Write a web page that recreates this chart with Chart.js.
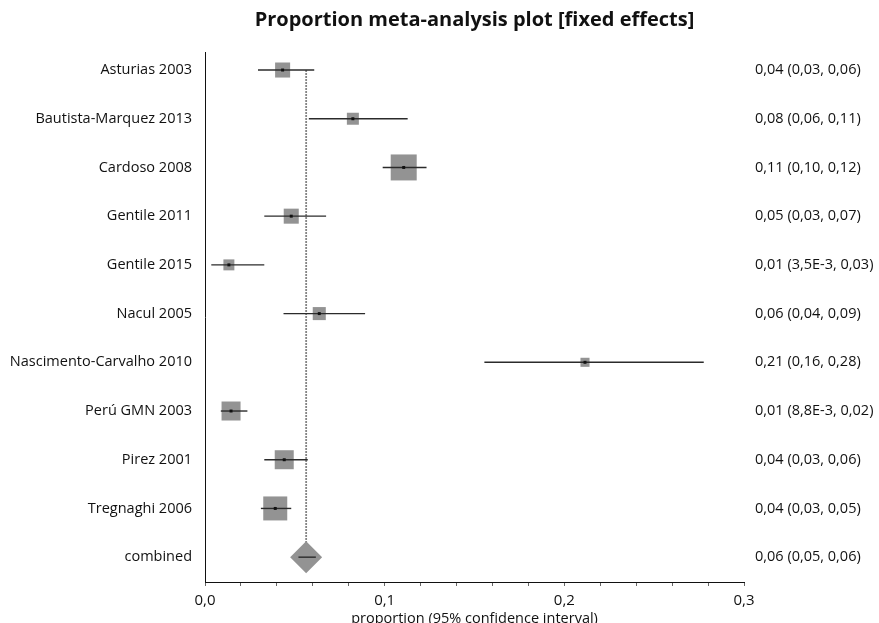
<!DOCTYPE html>
<html>
<head>
<meta charset="utf-8">
<script src="https://cdn.jsdelivr.net/npm/chart.js@4.4.1/dist/chart.umd.min.js"></script>
<style>
  html, body { margin: 0; padding: 0; background: #ffffff; }
  #wrap { width: 879px; height: 623px; position: relative; }
</style>
</head>
<body>
<div id="wrap"><canvas id="c" width="879" height="623"></canvas></div>
<script>
// ---- data ----
const studies = ['Asturias 2003', 'Bautista-Marquez 2013', 'Cardoso 2008', 'Gentile 2011', 'Gentile 2015',
  'Nacul 2005', 'Nascimento-Carvalho 2010', 'Perú GMN 2003', 'Pirez 2001', 'Tregnaghi 2006', 'combined'];
const estimates = [0.0432, 0.0823, 0.1106, 0.0480, 0.0133, 0.0636, 0.2115, 0.0145, 0.0441, 0.0391];
const lowerCI = [0.0295, 0.0578, 0.0989, 0.0330, 0.0035, 0.0437, 0.1555, 0.0088, 0.0330, 0.0311];
const upperCI = [0.0608, 0.1128, 0.1233, 0.0674, 0.0330, 0.0891, 0.2776, 0.0236, 0.0572, 0.0480];
const weights = [7.7, 4.9, 23.0, 7.7, 4.1, 5.8, 2.8, 12.3, 12.3, 19.6]; // % weight (box area)
const pooled = 0.0563;
const pooledLower = 0.0520;
const pooledUpper = 0.0617;
const ciLabels = ['0,04 (0,03, 0,06)', '0,08 (0,06, 0,11)', '0,11 (0,10, 0,12)', '0,05 (0,03, 0,07)',
  '0,01 (3,5E-3, 0,03)', '0,06 (0,04, 0,09)', '0,21 (0,16, 0,28)', '0,01 (8,8E-3, 0,02)',
  '0,04 (0,03, 0,06)', '0,04 (0,03, 0,05)', '0,06 (0,05, 0,06)'];
const xTickValues = [0, 0.1, 0.2, 0.3];

// ---- build datasets ----
const nStudies = estimates.length;
const combinedRow = studies.length - 1;
const FONT = "'Open Sans', 'DejaVu Sans', sans-serif";
const TEXT = '#111111';
const datasets = [];

// centre dots (drawn on top)
datasets.push({
  label: 'dots', order: 0,
  data: estimates.map((v, i) => ({ x: v, y: i })),
  pointStyle: 'rect', pointRadius: 2.1, backgroundColor: '#111', borderWidth: 0
});
// confidence interval lines
for (let i = 0; i < nStudies; i++) {
  datasets.push({
    label: 'ci' + i, order: 1, showLine: true,
    data: [{ x: lowerCI[i], y: i }, { x: upperCI[i], y: i }],
    borderColor: '#2b2b2b', borderWidth: 1.4, pointRadius: 0
  });
}
datasets.push({
  label: 'ciPooled', order: 1, showLine: true,
  data: [{ x: pooledLower, y: combinedRow }, { x: pooledUpper, y: combinedRow }],
  borderColor: '#2b2b2b', borderWidth: 1.4, pointRadius: 0
});
// weight boxes (area proportional to weight)
datasets.push({
  label: 'boxes', order: 2,
  data: estimates.map((v, i) => ({ x: v, y: i })),
  pointStyle: 'rect',
  pointRadius: weights.map(w => 5.42 * Math.sqrt(w) / Math.SQRT2),
  backgroundColor: '#939393', borderWidth: 0
});
// pooled diamond
datasets.push({
  label: 'diamond', order: 3,
  data: [{ x: pooled, y: combinedRow }],
  pointStyle: 'rectRot', pointRadius: 16, backgroundColor: '#939393', borderWidth: 0
});
// dashed pooled reference line
datasets.push({
  label: 'pooledLine', order: 4, showLine: true,
  data: [{ x: pooled, y: 0 }, { x: pooled, y: combinedRow }],
  borderColor: '#858585', borderWidth: 1.8, borderDash: [2, 1], pointRadius: 0
});

function rowTicks(scale) {
  scale.ticks = studies.map((s, i) => ({ value: i }));
}

new Chart(document.getElementById('c'), {
  type: 'scatter',
  data: { datasets },
  options: {
    responsive: false,
    animation: false,
    events: [],
    layout: { padding: 0 },
    plugins: {
      legend: { display: false },
      tooltip: { enabled: false },
      title: {
        display: true, fullSize: false,
        text: 'Proportion meta-analysis plot [fixed effects]',
        color: TEXT,
        font: { family: FONT, size: 20, weight: 'bold', lineHeight: 1.2 },
        padding: { top: 8, bottom: 20 }
      }
    },
    scales: {
      x: {
        type: 'linear', min: 0, max: 0.3,
        afterBuildTicks: (scale) => {
          const t = [];
          for (let k = 0; k <= 15; k++) t.push({ value: k * 0.02 });
          scale.ticks = t;
        },
        afterFit: (scale) => { scale.height = 41; },
        border: { display: true, color: '#111', width: 1 },
        grid: { display: true, drawOnChartArea: false, drawTicks: true, tickLength: 4, color: '#666', tickWidth: 1 },
        ticks: {
          autoSkip: false, maxRotation: 0, padding: 6,
          color: TEXT, font: { family: FONT, size: 15 },
          callback: (v) => {
            const hit = xTickValues.find(t => Math.abs(t - v) < 1e-9);
            return hit === undefined ? '' : hit.toFixed(1).replace('.', ',');
          }
        },
        title: {
          display: true, text: 'proportion (95% confidence interval)', color: TEXT,
          font: { family: FONT, size: 14.5, lineHeight: 1 }, padding: { top: 0, bottom: -3 }
        }
      },
      y: {
        type: 'linear', position: 'left', reverse: true, min: -0.37, max: 10.51,
        afterBuildTicks: rowTicks,
        afterFit: (scale) => { scale.width = 205; },
        border: { display: true, color: '#111', width: 1 },
        grid: { display: false, drawTicks: false },
        ticks: {
          autoSkip: false, padding: 13, color: TEXT, font: { family: FONT, size: 14.5 },
          callback: (v) => studies[v]
        }
      },
      y2: {
        type: 'linear', position: 'right', reverse: true, min: -0.37, max: 10.51,
        afterBuildTicks: rowTicks,
        afterFit: (scale) => { scale.width = 135; },
        border: { display: false },
        grid: { display: false, drawTicks: false },
        ticks: {
          autoSkip: false, padding: 11, color: TEXT, font: { family: FONT, size: 14.5 },
          callback: (v) => ciLabels[v]
        }
      }
    }
  }
});
</script>
</body>
</html>
